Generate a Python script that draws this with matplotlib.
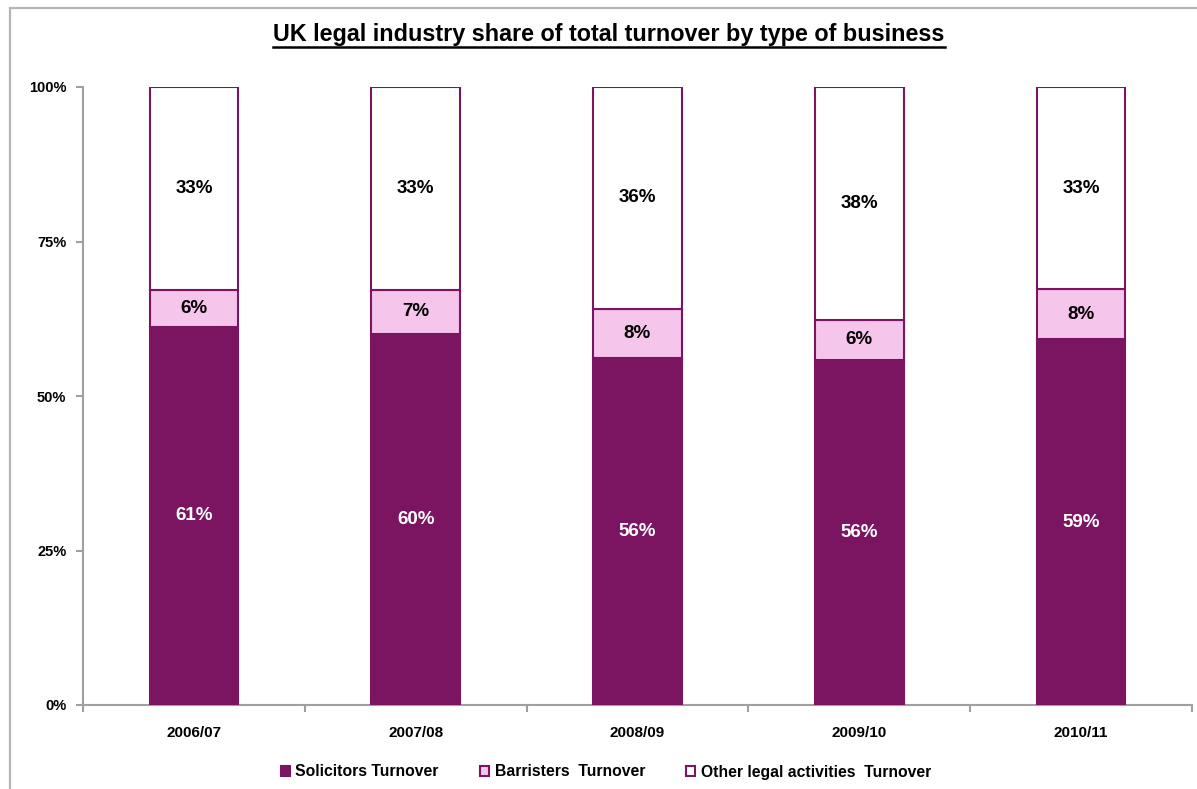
import matplotlib
matplotlib.use("Agg")
import matplotlib.pyplot as plt
from matplotlib.patches import Rectangle
from matplotlib.lines import Line2D
import numpy as np

years = ["2006/07", "2007/08", "2008/09", "2009/10", "2010/11"]
solicitors = [61.2, 60.0, 56.2, 55.9, 59.2]
barristers = [6.0, 7.2, 7.9, 6.4, 8.1]
other = [32.8, 32.8, 35.9, 37.7, 32.7]
series_names = ["Solicitors Turnover", "Barristers  Turnover", "Other legal activities  Turnover"]
y_ticks = [0, 25, 50, 75, 100]
y_tick_labels = ["0%", "25%", "50%", "75%", "100%"]
title = "UK legal industry share of total turnover by type of business"

plt.rcParams['font.family'] = ['Liberation Sans', 'DejaVu Sans']

W, H = 1197, 789
fig = plt.figure(figsize=(W / 100, H / 100), dpi=100)
fig.patch.set_facecolor("white")

# outer frame
fig.add_artist(Rectangle((10 / W, -0.01), 1.1, 1 - 8 / H + 0.01, transform=fig.transFigure,
                         fill=False, edgecolor="#b5b5b5", linewidth=1.6))

ax = fig.add_axes([83 / W, 1 - 705 / H, 1109 / W, 618 / H])

purple = "#7b1461"
pink = "#f5c5ec"
x = np.arange(len(years))
bw = 0.40
sol = np.array(solicitors)
bar = np.array(barristers)
oth = np.array(other)

ax.bar(x, sol, bw, color=purple, edgecolor=purple, linewidth=1.5, label=series_names[0], zorder=3)
ax.bar(x, bar, bw, bottom=sol, color=pink, edgecolor=purple, linewidth=1.5, label=series_names[1], zorder=3)
ax.bar(x, oth, bw, bottom=sol + bar, color="white", edgecolor=purple, linewidth=1.5, label=series_names[2], zorder=3)

def lab(v):
    return "%d%%" % int(v + 0.5)

for i in range(len(years)):
    ax.text(x[i], sol[i] / 2, lab(sol[i]), ha="center", va="center", color="white",
            fontsize=13.5, fontweight="bold", zorder=4)
    ax.text(x[i], sol[i] + bar[i] / 2, lab(bar[i]), ha="center", va="center", color="black",
            fontsize=13.5, fontweight="bold", zorder=4)
    ax.text(x[i], sol[i] + bar[i] + oth[i] / 2, lab(oth[i]), ha="center", va="center", color="black",
            fontsize=13.5, fontweight="bold", zorder=4)

ax.set_xlim(-0.5, len(years) - 0.5)
ax.set_ylim(0, 100)
ax.set_yticks(y_ticks)
ax.set_yticklabels(y_tick_labels, fontsize=10.5, fontweight="bold")
ax.set_xticks(x)
ax.set_xticklabels(years, fontsize=11, fontweight="bold")
ax.set_xticks(np.arange(-0.5, len(years), 1.0), minor=True)
ax.tick_params(axis="x", which="major", length=0, pad=15)
ax.tick_params(axis="x", which="minor", length=5, width=1.5, color="#a0a0a0", direction="out")
ax.tick_params(axis="y", length=5, width=1.5, color="#a0a0a0", direction="out", pad=7)
for s in ["top", "right"]:
    ax.spines[s].set_visible(False)
for s in ["left", "bottom"]:
    ax.spines[s].set_color("#a0a0a0")
    ax.spines[s].set_linewidth(1.5)

leg = fig.legend(loc="center", bbox_to_anchor=(0.506, 1 - 772 / H), ncol=3, frameon=False,
                 prop={"weight": "bold", "size": 11.3},
                 handlelength=0.6, handleheight=0.6, handletextpad=0.35, columnspacing=2.6)

t = fig.text(609 / W, 1 - 34 / H, title, ha="center", va="center", fontsize=16.8, fontweight="bold")
fig.canvas.draw()
bb = t.get_window_extent()
fig.add_artist(Line2D([bb.x0 / W, bb.x1 / W], [1 - 47 / H, 1 - 47 / H], transform=fig.transFigure,
                      color="black", linewidth=1.8))

fig.savefig("out.png", dpi=100)
